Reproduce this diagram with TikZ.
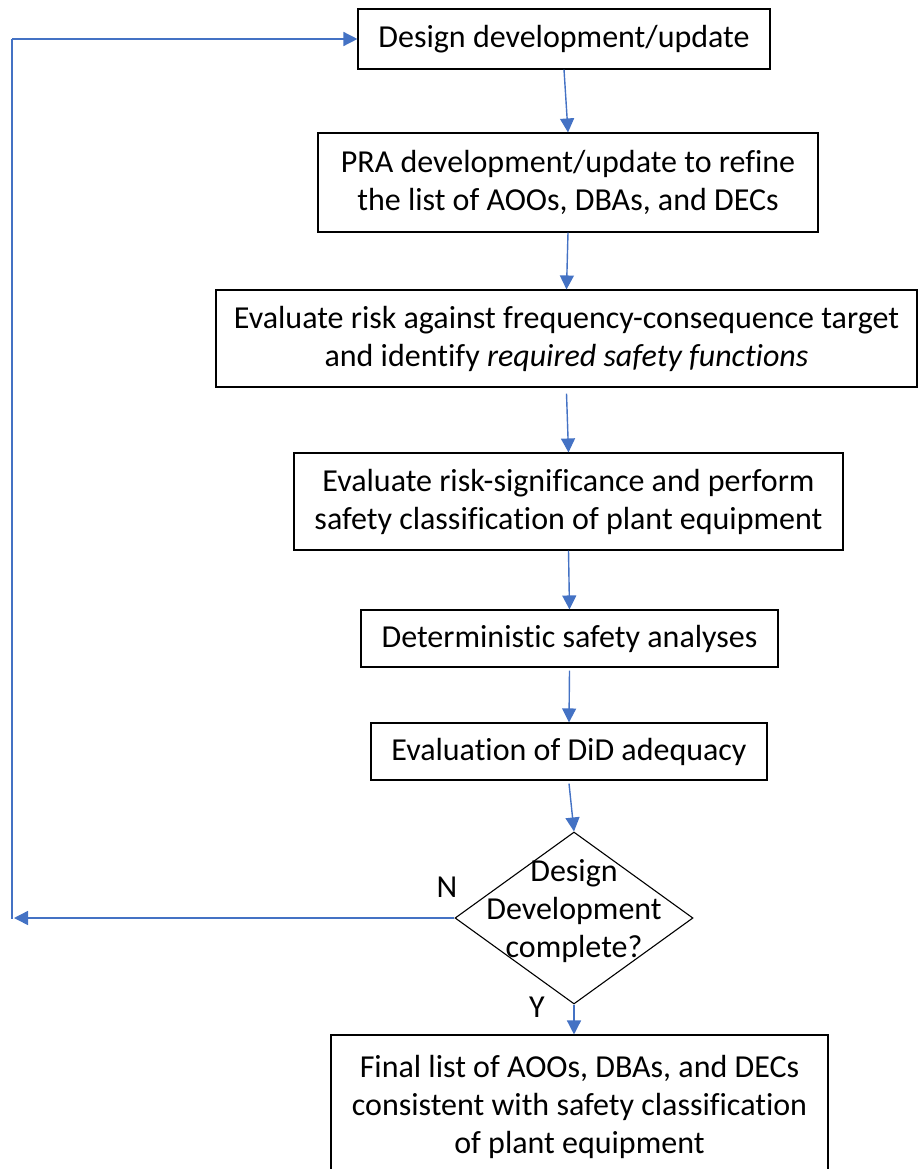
\documentclass[tikz,border=0pt]{standalone}
\usepackage{fontspec}
\setmainfont{Carlito}[Ligatures=NoCommon]
\usetikzlibrary{arrows.meta,shapes.geometric}
\definecolor{arrowblue}{HTML}{4472C4}
\begin{document}
\begin{tikzpicture}[x=1pt,y=-1pt,
  box/.style={draw=black,line width=1.1pt,align=center,inner sep=0pt,
    font=\fontsize{32}{38}\selectfont},
  conn/.style={draw=arrowblue,line width=1.4pt,-{Triangle[length=14pt,width=14pt]}},
  line/.style={draw=arrowblue,line width=1.4pt},
  lbl/.style={font=\fontsize{32}{38}\selectfont,inner sep=0pt}]
\useasboundingbox (0,0) rectangle (919,1169);
\node[box,minimum width=412pt,minimum height=60pt] (b1) at (564,39) {Design development/update};
\node[box,minimum width=500pt,minimum height=99pt] (b2) at (568,182.5) {PRA development/update to refine\\the list of AOOs, DBAs, and DECs};
\node[box,minimum width=701pt,minimum height=97pt] (b3) at (566.5,338.5) {Evaluate risk against frequency-consequence target\\and identify \textit{required safety functions}};
\node[box,minimum width=549pt,minimum height=97pt] (b4) at (568.5,501.5) {Evaluate risk-significance and perform\\safety classification of plant equipment};
\node[box,minimum width=417pt,minimum height=57pt] (b5) at (569.5,638.5) {Deterministic safety analyses};
\node[box,minimum width=396pt,minimum height=57pt] (b6) at (569,751.5) {Evaluation of DiD adequacy};
\node[draw=black,line width=1.1pt,diamond,minimum width=238pt,minimum height=172pt,inner sep=0pt] (d) at (574,918) {};
\node[lbl,align=center] (dt) at (574,911) {Design\\Development\\complete?};
\node[box,minimum width=497pt,minimum height=144pt] (b7) at (579.5,1107) {Final list of AOOs, DBAs, and DECs\\consistent with safety classification\\of plant equipment};
\node[lbl] (n) at (447,887) {N};
\node[lbl] (y) at (537,1007) {Y};
\coordinate (fa) at (14,918);
\coordinate (fb) at (12,918.7);
\coordinate (fc) at (12,39);
\draw[conn] (b1.south) -- (b2.north);
\draw[conn] (b2.south) -- (b3.north);
\draw[conn] ([yshift=-6pt]b3.south) -- (b4.north);
\draw[conn] (b4.south) -- (b5.north);
\draw[conn] ([yshift=-3pt]b5.south) -- (b6.north);
\draw[conn] ([yshift=-3pt]b6.south) -- (d.north);
\draw[conn] (d.south) -- (d.south |- b7.north);
\draw[conn] (d.west) -- (fa);
\draw[line] (fb) -- (fc);
\draw[conn] (fc) -- (b1.west);
\end{tikzpicture}
\end{document}
